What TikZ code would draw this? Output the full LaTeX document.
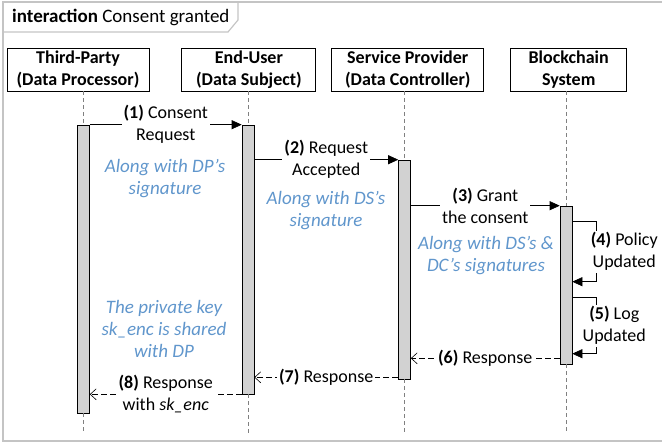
\documentclass[tikz,border=0pt]{standalone}
\usepackage{fontspec}
\setmainfont{Carlito}
\usetikzlibrary{positioning}
\usetikzlibrary{arrows.meta}
\definecolor{noteblue}{RGB}{96,150,204}
\definecolor{framegray}{RGB}{196,196,196}

\begin{document}
\fontsize{18}{22}\selectfont
\begin{tikzpicture}[x=1pt, y=-1pt,
  head/.style = {draw, line width=0.9pt, fill=white, align=center, font=\bfseries, minimum height=43pt, inner sep=0pt},
  bar/.style = {draw, semithick, fill=gray!35, minimum width=12pt, inner sep=0pt},
  lifeline/.style = {draw=gray, dash pattern=on 4pt off 3pt},
  msg/.style = {semithick, -{Triangle[length=10pt,width=9pt]}},
  reply/.style = {semithick, dash pattern=on 6pt off 3pt, -{Straight Barb[length=6pt,width=11pt]}},
  lbl/.style = {fill=white, align=center, inner sep=2pt},
  note/.style = {text=noteblue, font=\fontsize{19}{22}\selectfont\itshape, align=center}]
\useasboundingbox (0,0) rectangle (662,445);
\clip (0,0) rectangle (662,445);

% frame and tab
\draw[framegray, line width=1.5pt] (3,2) rectangle (675,441);
\draw[framegray, line width=1.2pt] (3,2) -- (238,2) -- (238,20) -- (228,32) -- (3,32);
\node[anchor=west, font=\fontsize{19}{22}\selectfont] (title) at (6,17) {\textbf{interaction} Consent granted};

% lifeline heads
\node[head, minimum width=142pt] (tp) at (78,69.5) {Third-Party\\(Data Processor)};
\node[head, minimum width=134pt, right=32pt of tp] (eu) {End-User\\(Data Subject)};
\node[head, minimum width=152pt, right=15pt of eu] (sp) {Service Provider\\(Data Controller)};
\node[head, minimum width=116pt, right=26pt of sp] (bc) {Blockchain\\System};

% activation bars
\node[bar, minimum height=288pt] (tpbar) at (83.5,269) {};
\node[bar, minimum height=269pt] (eubar) at (248,259.5) {};
\node[bar, minimum height=219pt] (spbar) at (404.5,269.5) {};
\node[bar, minimum height=158pt] (bcbar) at (566,285) {};

\foreach \h/\b in {tp/tpbar, eu/eubar, sp/spbar, bc/bcbar} {
  \draw[lifeline] (\h.south -| \b.north) -- (\b.north);
  \draw[lifeline] (\b.south) -- (\b.south |- 0,433);
}

% requests
\path (tpbar.north east) edge [msg] node [lbl] {\textbf{(1)} Consent\\Request} (eubar.north west);
\path (eubar.east |- spbar.north) edge [msg] node [lbl] {\textbf{(2)} Request\\Accepted} (spbar.north west);
\path (spbar.east |- bcbar.north) edge [msg] node [lbl] {\textbf{(3)} Grant\\the consent} (bcbar.north west);

% self messages
\draw[msg] ([yshift=-16pt]bcbar.north east) -- ++(24,0) -- node [lbl, xshift=28pt] {\textbf{(4)} Policy\\Updated} ++(0,60) -- ++(-24,0);
\draw[msg] ([yshift=-92pt]bcbar.north east) -- ++(24,0) -- node [lbl, xshift=18pt] {\textbf{(5)} Log\\Updated} ++(0,56) -- ++(-24,0);

% responses
\coordinate (r6) at ([yshift=6pt]bcbar.south west);
\coordinate (r7) at ([yshift=2pt]spbar.south west);
\path (r6) edge [reply] node [lbl] {\textbf{(6)} Response} (spbar.east |- r6);
\path (r7) edge [reply] node [lbl] {\textbf{(7)} Response} (eubar.east |- r7);
\path (eubar.south west) edge [reply] node [lbl] {\textbf{(8)} Response\\with \textit{sk\_enc}} (tpbar.east |- eubar.south);

% notes
\node[note] (dpnote) at (165,179) {Along with DP's\\signature};
\node[note] (dsnote) at (326,211) {Along with DS's\\signature};
\node[note] (dcnote) at (486,256) {Along with DS's \&\\DC's signatures};
\node[note] (keynote) at (164,329) {The private key\\sk\_enc is shared\\with DP};
\end{tikzpicture}
\end{document}
